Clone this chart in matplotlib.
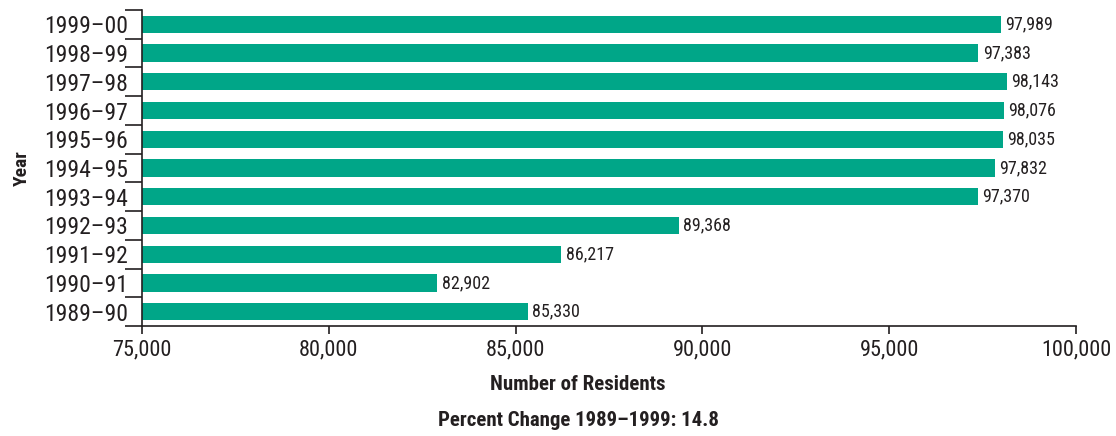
import matplotlib as mpl
mpl.use('Agg')
import matplotlib.pyplot as plt
from matplotlib.ticker import FixedLocator, FuncFormatter

years = ['1989\u201390', '1990\u201391', '1991\u201392', '1992\u201393', '1993\u201394',
	'1994\u201395', '1995\u201396', '1996\u201397', '1997\u201398', '1998\u201399', '1999\u201300']
residents = [85330, 82902, 86217, 89368, 97370, 97832, 98035, 98076, 98143, 97383, 97989]
xticks = [75000, 80000, 85000, 90000, 95000, 100000]

plt.rcParams['font.family'] = ['Roboto Condensed', 'Open Sans Condensed', 'DejaVu Sans']
plt.rcParams['font.stretch'] = 'condensed'
ink = '#231f20'

fig = plt.figure(figsize=(11.16, 4.36), dpi=100)
ax = fig.add_axes([142/1116, 1 - 326/436, (1076-142)/1116, (326-10)/436])

pos = list(range(len(years)))
ax.barh(pos, [r - 75000 for r in residents], left=75000, height=0.6, color='#00a688')
for p, r in zip(pos, residents):
	ax.text(r + 120, p, '{:,}'.format(r), va='center', ha='left', fontsize=13, color=ink)

ax.set_xlim(75000, 100000)
ax.set_ylim(-0.5, len(years) - 0.5)
ax.set_xticks(xticks)
ax.xaxis.set_major_formatter(FuncFormatter(lambda v, p: '{:,}'.format(int(v))))
ax.set_yticks(pos)
ax.set_yticklabels(years)
ax.yaxis.set_minor_locator(FixedLocator([p - 0.5 for p in pos] + [len(years) - 0.5]))
ax.tick_params(axis='y', which='major', length=0, pad=10, labelsize=17, labelcolor=ink)
ax.tick_params(axis='y', which='minor', length=12, width=1.2, color=ink)
ax.tick_params(axis='x', length=6, width=1.2, labelsize=16, labelcolor=ink, color=ink)
for s in ['top', 'right']:
	ax.spines[s].set_visible(False)
for s in ['left', 'bottom']:
	ax.spines[s].set_color(ink)
	ax.spines[s].set_linewidth(1.2)

fig.text(578/1116, 1 - 384/436, 'Number of Residents', ha='center', va='center',
	fontsize=15, fontweight='bold', color=ink)
fig.text(22/1116, 1 - 168/436, 'Year', rotation=90, ha='center', va='center',
	fontsize=14, fontweight='bold', color=ink)
fig.text(578/1116, 1 - 420/436, 'Percent Change 1989\u20131999: 14.8',
	ha='center', va='center', fontsize=15, fontweight='bold', color=ink)

plt.savefig('out.png', dpi=100)
plt.close()
